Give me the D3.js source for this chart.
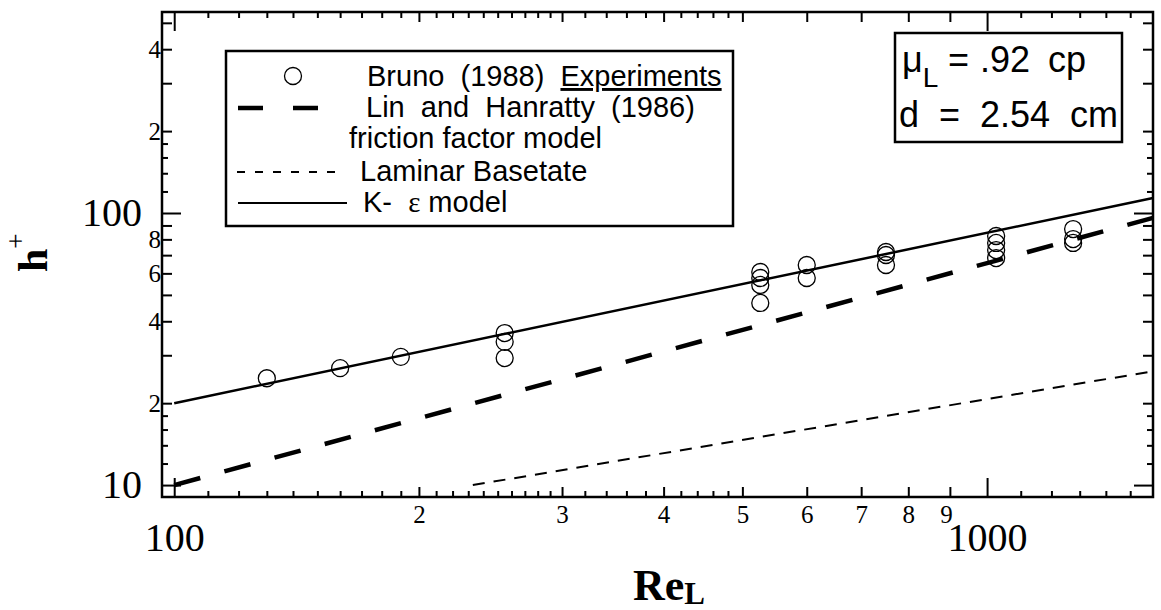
<!DOCTYPE html>
<html>
<head>
<meta charset="utf-8">
<script src="https://cdn.jsdelivr.net/npm/d3@7"></script>
<style>
  body { margin: 0; background: #fff; }
  text { white-space: pre; }
</style>
</head>
<body>
<div id="chart"></div>
<script>
// Bruno (1988) experiments
const brunoRe = [130, 160, 190, 255, 255, 255, 526, 526, 526, 526, 600, 600, 751, 751, 751, 1026, 1026, 1026, 1026, 1276, 1276, 1276];
const brunoH  = [24.7, 26.9, 29.6, 36.2, 33.6, 29.3, 60.7, 57.7, 54.4, 46.7, 64.4, 57.7, 71.9, 70.1, 64.4, 82.3, 77.6, 73.1, 68.3, 87.3, 80.2, 77.6];

// model curves (straight on log-log, end points)
const kepsRe = [100, 1600];
const kepsH  = [20, 113.5];
const linRe  = [100, 1600];
const linH   = [10, 96];
const lamRe  = [233, 1600];
const lamH   = [10, 26.2];

// axis extents and tick values
const reDomain = [96.6, 1600];
const hDomain  = [9.04, 548];
const xBigTicks   = [100, 1000];
const xMidTicks   = [200, 300, 400, 500, 600, 700, 800, 900];
const xSmallTicks = [110, 120, 130, 140, 150, 160, 170, 180, 190, 210, 220, 230, 240, 250, 260, 270, 280, 290,
                     320, 340, 360, 380, 420, 440, 460, 480, 1100, 1200, 1300, 1400, 1500];
const yBigTicks   = [10, 100];
const yMidTicks   = [20, 30, 40, 50, 60, 70, 80, 90, 200, 300, 400, 500];
const ySmallTicks = [12, 14, 16, 18, 120, 140, 160, 180];
const yMidLabels  = {20: "2", 40: "4", 60: "6", 80: "8", 200: "2", 400: "4"};

const W = 1161, H = 610;
const pLeft = 162, pRight = 1153, pTop = 12, pBottom = 497;
const serif = "'Liberation Serif', 'Times New Roman', serif";
const sans = "'Liberation Sans', Arial, Helvetica, sans-serif";

const svg = d3.select("#chart").append("svg")
    .attr("width", W)
    .attr("height", H)
    .style("display", "block");

svg.append("rect").attr("width", W).attr("height", H).attr("fill", "#fff");

const x = d3.scaleLog().domain(reDomain).range([pLeft, pRight]);
const y = d3.scaleLog().domain(hDomain).range([pBottom, pTop]);

// ticks: all point inward, on all four sides
function tickSet(vals, len, fmt, pad, size) {
    const b = svg.append("g").attr("transform", `translate(0,${pBottom})`)
        .call(d3.axisBottom(x).tickValues(vals).tickSize(-len).tickPadding(pad || 3).tickFormat(fmt || (() => "")));
    b.selectAll("text").style("font-family", serif).style("font-size", (size || 10) + "px").attr("fill", "#000");
    svg.append("g").attr("transform", `translate(0,${pTop})`)
        .call(d3.axisTop(x).tickValues(vals).tickSize(-len).tickFormat(() => ""));
    return b;
}
function tickSetY(vals, len, fmt, pad, size) {
    const l = svg.append("g").attr("transform", `translate(${pLeft},0)`)
        .call(d3.axisLeft(y).tickValues(vals).tickSize(-len).tickPadding(pad || 3).tickFormat(fmt || (() => "")));
    l.selectAll("text").style("font-family", serif).style("font-size", (size || 10) + "px").attr("fill", "#000");
    svg.append("g").attr("transform", `translate(${pRight},0)`)
        .call(d3.axisRight(y).tickValues(vals).tickSize(-len).tickFormat(() => ""));
}

tickSet(xSmallTicks, 6);
const xMidAxis = tickSet(xMidTicks, 10, d => String(d / 100), 8, 25);
tickSet(xBigTicks, 19, d => String(d), 26, 40);
tickSetY(ySmallTicks, 6);
tickSetY(yMidTicks, 10, d => yMidLabels[d] || "", 1, 25);
tickSetY(yBigTicks, 19, d => String(d), 20, 40);

// the "9" sits a little left of its tick, clear of "1000"
xMidAxis.selectAll(".tick text").filter(d => d === 900).attr("dx", -4);

svg.selectAll(".domain").remove();
svg.selectAll(".tick line").attr("stroke", "#000").attr("stroke-width", 2);

// frame
svg.append("rect")
    .attr("x", pLeft).attr("y", pTop)
    .attr("width", pRight - pLeft).attr("height", pBottom - pTop)
    .attr("fill", "none").attr("stroke", "#000").attr("stroke-width", 2.5);

// curves
const line = d3.line().x(d => x(d[0])).y(d => y(d[1]));

svg.append("path")
    .datum(d3.zip(kepsRe, kepsH))
    .attr("d", line)
    .attr("fill", "none").attr("stroke", "#000").attr("stroke-width", 2.5);

svg.append("path")
    .datum(d3.zip(linRe, linH))
    .attr("d", line)
    .attr("fill", "none").attr("stroke", "#000").attr("stroke-width", 4.5)
    .attr("stroke-dasharray", "27,25");

svg.append("path")
    .datum(d3.zip(lamRe, lamH))
    .attr("d", line)
    .attr("fill", "none").attr("stroke", "#000").attr("stroke-width", 2)
    .attr("stroke-dasharray", "12,9");

// experiment points
svg.append("g")
    .selectAll("circle")
    .data(d3.zip(brunoRe, brunoH))
    .enter().append("circle")
    .attr("cx", d => x(d[0]))
    .attr("cy", d => y(d[1]))
    .attr("r", 8.5)
    .attr("fill", "none")
    .attr("stroke", "#000")
    .attr("stroke-width", 1.3);

// axis titles
const xt = svg.append("text")
    .attr("x", 633).attr("y", 600)
    .style("font-family", serif).style("font-weight", "bold").style("font-size", "44px");
xt.append("tspan").text("Re");
xt.append("tspan").attr("dy", 4).style("font-size", "31px").text("L");

const yt = svg.append("text")
    .attr("transform", "translate(47,272) rotate(-90)")
    .style("font-family", serif).style("font-weight", "bold").style("font-size", "42px");
yt.append("tspan").text("h");
yt.append("tspan").attr("dy", -22).style("font-size", "27px").style("font-weight", "normal").text("+");

// legend box
const lg = svg.append("g");
lg.append("rect")
    .attr("x", 226).attr("y", 51).attr("width", 507).attr("height", 175)
    .attr("fill", "#fff").attr("stroke", "#000").attr("stroke-width", 2.5);

lg.append("circle").attr("cx", 293).attr("cy", 76).attr("r", 8.5)
    .attr("fill", "none").attr("stroke", "#000").attr("stroke-width", 1.3);
lg.append("line").attr("x1", 238).attr("x2", 320).attr("y1", 108).attr("y2", 108)
    .attr("stroke", "#000").attr("stroke-width", 4.5).attr("stroke-dasharray", "25,30");
lg.append("line").attr("x1", 237).attr("x2", 336).attr("y1", 172).attr("y2", 172)
    .attr("stroke", "#000").attr("stroke-width", 2).attr("stroke-dasharray", "8,10");
lg.append("line").attr("x1", 238).attr("x2", 347).attr("y1", 203).attr("y2", 203)
    .attr("stroke", "#000").attr("stroke-width", 2);

function legText(xp, yp) {
    return lg.append("text")
        .attr("x", xp).attr("y", yp)
        .attr("xml:space", "preserve")
        .style("font-family", sans).style("font-size", "29px");
}
const t1 = legText(367, 86);
t1.append("tspan").text("Bruno  (1988)  ");
t1.append("tspan").style("text-decoration", "underline").text("Experiments");
legText(366, 117).text("Lin  and  Hanratty  (1986)");
legText(349, 148).text("friction factor model");
legText(360, 181).text("Laminar Basetate");
const t5 = legText(363, 212);
t5.append("tspan").text("K-  ");
t5.append("tspan").style("font-family", serif).text("ε");
t5.append("tspan").text(" model");

// conditions box
const cb = svg.append("g");
cb.append("rect")
    .attr("x", 895).attr("y", 33).attr("width", 227).attr("height", 109)
    .attr("fill", "#fff").attr("stroke", "#000").attr("stroke-width", 2.5);
const c1 = cb.append("text")
    .attr("x", 902).attr("y", 72)
    .style("font-family", sans).style("font-size", "36px");
c1.append("tspan").text("μ");
c1.append("tspan").attr("dy", 15).style("font-size", "28px").text("L");
c1.append("tspan").attr("x", 948).attr("dy", -15).text("=");
c1.append("tspan").attr("x", 980).text(".92");
c1.append("tspan").attr("x", 1048).text("cp");
cb.append("text")
    .attr("x", 899).attr("y", 127)
    .attr("xml:space", "preserve")
    .style("font-family", sans).style("font-size", "36px")
    .text("d  =  2.54  cm");
</script>
</body>
</html>
